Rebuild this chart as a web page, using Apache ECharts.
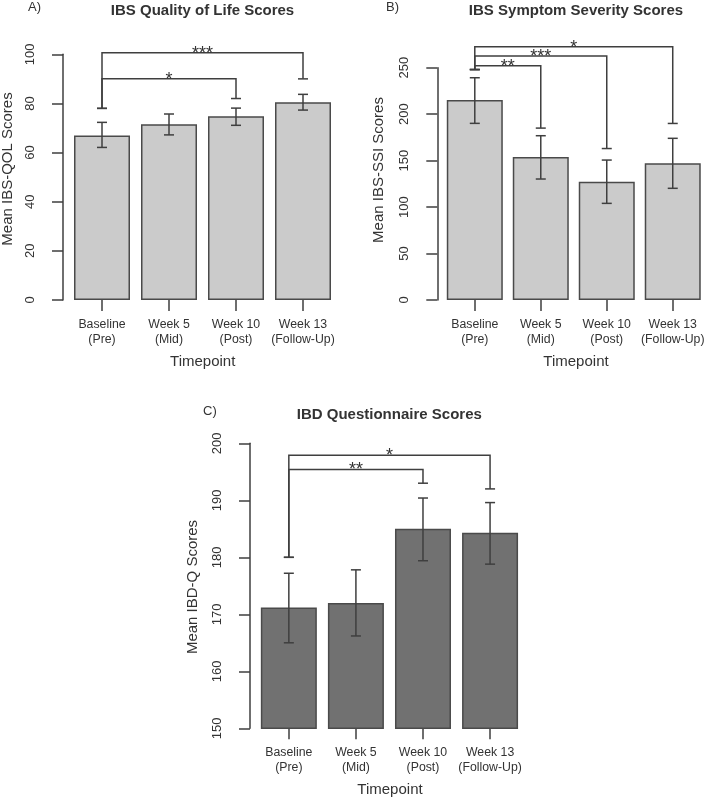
<!DOCTYPE html>
<html><head><meta charset="utf-8">
<script src="https://cdn.jsdelivr.net/npm/echarts@6/dist/echarts.min.js"></script>
<style>html,body{margin:0;padding:0;background:#fff}#c{width:707px;height:799px}</style>
</head><body><div id="c"></div>
<script>
// ---- data ----
const categories = ['Baseline\n(Pre)', 'Week 5\n(Mid)', 'Week 10\n(Post)', 'Week 13\n(Follow-Up)'];
const qolMean = [67.0, 71.5, 74.8, 80.5];
const qolLow  = [62.1, 67.2, 71.1, 77.3];
const qolHigh = [72.3, 75.7, 78.1, 83.7];
const ssiMean = [215.2, 153.9, 127.3, 147.1];
const ssiLow  = [190.1, 130.2, 104.0, 120.2];
const ssiHigh = [239.2, 176.8, 150.6, 174.0];
const ibdMean = [171.2, 172.0, 185.0, 184.3];
const ibdLow  = [165.0, 166.2, 179.4, 178.8];
const ibdHigh = [177.2, 177.8, 190.4, 189.6];
// significance brackets: [fromIndex, toIndex, top, fromEnd, toEnd, label]
const qolBrackets = [[0, 2, 90, 78, 82, '*'], [0, 3, 100.6, 78, 90, '***']];
const ssiBrackets = [[0, 1, 252, 248, 185, '**'], [0, 2, 262.6, 248, 163, '***'], [0, 3, 272.6, 248, 190, '*']];
const ibdBrackets = [[0, 2, 195.4, 180, 193, '**'], [0, 3, 197.9, 180, 192, '*']];

const FONT = '"Liberation Sans", Arial, Helvetica, sans-serif';
const LINE = '#3f3f3f';
const TXT = '#333333';
const CAP = 5;
const LW = 1.5;

function errData(lo, hi) { return lo.map((v, i) => [i, v, hi[i]]); }
function brData(b) { return b.map(r => [r[0], r[1], r[2], r[3], r[4]]); }

function errRender(params, api) {
  const x = api.value(0);
  const pl = api.coord([x, api.value(1)]);
  const ph = api.coord([x, api.value(2)]);
  const st = { stroke: LINE, lineWidth: LW };
  return { type: 'group', children: [
    { type: 'line', shape: { x1: ph[0], y1: ph[1], x2: pl[0], y2: pl[1] }, style: st },
    { type: 'line', shape: { x1: ph[0] - CAP, y1: ph[1], x2: ph[0] + CAP, y2: ph[1] }, style: st },
    { type: 'line', shape: { x1: pl[0] - CAP, y1: pl[1], x2: pl[0] + CAP, y2: pl[1] }, style: st }
  ]};
}
function makeBrRender(list) {
  return function (params, api) {
    const i = api.value(0), j = api.value(1), top = api.value(2);
    const a = api.coord([i, api.value(3)]);
    const b = api.coord([j, api.value(4)]);
    const ta = api.coord([i, top]);
    const tb = api.coord([j, top]);
    const st = { stroke: LINE, lineWidth: LW, fill: null };
    return { type: 'group', children: [
      { type: 'polyline', shape: { points: [a, ta, tb, b] }, style: st },
      { type: 'line', shape: { x1: a[0] - CAP, y1: a[1], x2: a[0] + CAP, y2: a[1] }, style: st },
      { type: 'line', shape: { x1: b[0] - CAP, y1: b[1], x2: b[0] + CAP, y2: b[1] }, style: st },
      { type: 'text', x: (ta[0] + tb[0]) / 2, y: ta[1] + 1,
        style: { text: list[params.dataIndex][5], textAlign: 'center', textVerticalAlign: 'middle',
                 font: '18px ' + FONT, fill: TXT } }
    ]};
  };
}

const grids = [
  { left: 68.5, top: 54.3, width: 268, height: 245.7 },
  { left: 441.8, top: 67.7, width: 268, height: 232.3 },
  { left: 255.3, top: 443.3, width: 268.3, height: 285 }
];
const yCfg = [
  { min: 0, max: 100, interval: 20, offset: 5.5 },
  { min: 0, max: 250, interval: 50, offset: 4.5 },
  { min: 150, max: 200, interval: 10, offset: 5.3 }
];
const means = [qolMean, ssiMean, ibdMean];
const lows = [qolLow, ssiLow, ibdLow];
const highs = [qolHigh, ssiHigh, ibdHigh];
const brackets = [qolBrackets, ssiBrackets, ibdBrackets];
const barColors = ['#cbcbcb', '#cbcbcb', '#717171'];

const xAxis = grids.map((g, k) => ({
  type: 'category', gridIndex: k, data: categories,
  axisLine: { show: false },
  axisTick: { show: true, alignWithLabel: true, length: 11, lineStyle: { color: LINE, width: LW } },
  axisLabel: { interval: 0, margin: 17, fontSize: 12.3, lineHeight: 15, color: TXT, fontFamily: FONT }
}));
const yAxis = yCfg.map((c, k) => ({
  type: 'value', gridIndex: k, min: c.min, max: c.max, interval: c.interval, offset: c.offset,
  axisLine: { show: true, lineStyle: { color: LINE, width: LW } },
  axisTick: { show: true, length: 11, lineStyle: { color: LINE, width: LW } },
  splitLine: { show: false },
  axisLabel: { rotate: 90, margin: 26, fontSize: 13, color: TXT, fontFamily: FONT }
}));

const series = [];
for (let k = 0; k < 3; k++) {
  series.push({
    type: 'bar', xAxisIndex: k, yAxisIndex: k, data: means[k], barWidth: 56,
    itemStyle: { color: barColors[k], borderColor: '#4a4a4a', borderWidth: LW },
    silent: true, animation: false
  });
  series.push({
    type: 'custom', xAxisIndex: k, yAxisIndex: k, data: errData(lows[k], highs[k]),
    encode: { x: 0, y: [1, 2] }, renderItem: errRender, clip: false, z: 5, animation: false
  });
  series.push({
    type: 'custom', xAxisIndex: k, yAxisIndex: k, data: brData(brackets[k]),
    encode: { x: [0, 1], y: [2, 3, 4] }, renderItem: makeBrRender(brackets[k]), clip: false, z: 5, animation: false
  });
}

function txt(text, x, y, size, opts) {
  opts = opts || {};
  return { type: 'text', x: x, y: y, rotation: opts.rot || 0,
    style: { text: text, textAlign: opts.align || 'center', textVerticalAlign: 'middle',
             font: (opts.bold ? 'bold ' : '') + size + 'px ' + FONT, fill: TXT } };
}
const graphic = [
  txt('A)', 28, 7, 13, { align: 'left' }),
  txt('B)', 386, 7, 13, { align: 'left' }),
  txt('C)', 203, 411, 13, { align: 'left' }),
  txt('IBS Quality of Life Scores', 202.5, 11, 15, { bold: true }),
  txt('IBS Symptom Severity Scores', 576, 11, 15, { bold: true }),
  txt('IBD Questionnaire Scores', 389.3, 415, 15, { bold: true }),
  txt('Mean IBS-QOL Scores', 8, 169, 15, { rot: Math.PI / 2 }),
  txt('Mean IBS-SSI Scores', 379, 170, 15, { rot: Math.PI / 2 }),
  txt('Mean IBD-Q Scores', 193.3, 587, 15, { rot: Math.PI / 2 }),
  txt('Timepoint', 202.7, 362, 15),
  txt('Timepoint', 576, 362, 15),
  txt('Timepoint', 390, 790, 15)
];

const chart = echarts.init(document.getElementById('c'), null, { renderer: 'canvas' });
chart.setOption({
  animation: false,
  backgroundColor: '#ffffff',
  grid: grids,
  xAxis: xAxis,
  yAxis: yAxis,
  series: series,
  graphic: graphic
});
</script>
</body></html>
